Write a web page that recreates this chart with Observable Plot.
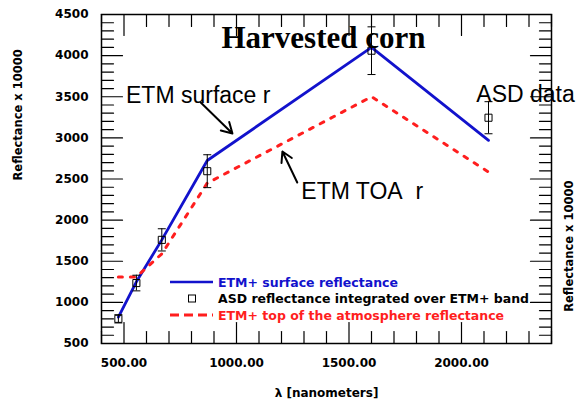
<!DOCTYPE html>
<html>
<head>
<meta charset="utf-8">
<script src="https://cdn.jsdelivr.net/npm/d3@7"></script>
<script src="https://cdn.jsdelivr.net/npm/@observablehq/plot@0.6"></script>
<style>
  body { margin: 0; background: #fff; }
</style>
</head>
<body>
<div id="chart"></div>
<script>
// ETM+ band centres (nm) and reflectances (x 10000) for harvested corn
const wavelengths = [475, 555, 668, 870, 1600, 2120];
const surfaceRefl = [820, 1250, 1760, 2725, 4100, 2970];
const toaRefl     = [1310, 1310, 1590, 2450, 3500, 2585];
const asdRefl     = [800, 1235, 1760, 2595, 4060, 3245];
const asdError    = [50, 95, 135, 200, 290, 195];

// axis ticks
const xTickLabels = [500, 1000, 1500, 2000];
const yTickLabels = [500, 1000, 1500, 2000, 2500, 3000, 3500, 4000, 4500];
const xMinorTicks = d3.range(400, 2401, 100);
const yMinorTicks = d3.range(500, 4501, 100);

// legend entries
const legendLabels = [
  "ETM+ surface reflectance",
  "ASD reflectance integrated over ETM+ band",
  "ETM+ top of the atmosphere reflectance"
];
const legendKinds = ["solid", "square", "dashed"];

const BLUE = "#1212cc";
const RED = "#ff1e1e";

const surface = wavelengths.map((w, i) => ({w, r: surfaceRefl[i]}));
const toa = wavelengths.map((w, i) => ({w, r: toaRefl[i]}));
const asd = wavelengths.map((w, i) => ({w, r: asdRefl[i], lo: asdRefl[i] - asdError[i], hi: asdRefl[i] + asdError[i]}));

// short line segment used for tick marks and error-bar caps
const tickShape = {draw(ctx, l) { ctx.moveTo(0, 0); ctx.lineTo(0, -l); }};
const capSymbol = {draw(ctx, size) { const r = Math.sqrt(size / Math.PI); ctx.moveTo(-r, 0); ctx.lineTo(r, 0); }};

const major = (list) => (d) => list.includes(d) ? 7 : 4;

function inwardTicks() {
  const common = {shape: tickShape, anchor: "start", stroke: "black", strokeWidth: 1.2};
  return [
    Plot.vector(yMinorTicks, {...common, x: 400, y: d => d, rotate: 90, length: major(yTickLabels)}),
    Plot.vector(yMinorTicks, {...common, x: 2400, y: d => d, rotate: -90, length: major(yTickLabels)}),
    Plot.vector(xMinorTicks, {...common, y: 500, x: d => d, rotate: 0, length: major(xTickLabels)}),
    Plot.vector(xMinorTicks, {...common, y: 4500, x: d => d, rotate: 180, length: major(xTickLabels)})
  ];
}

function legend(index, scales, values, dims) {
  const x0 = dims.marginLeft + 69;
  const y0 = dims.marginTop + 268;
  const g = d3.create("svg:g")
    .attr("font-family", "DejaVu Sans")
    .attr("font-weight", "bold")
    .attr("font-size", 12.5)
    .attr("text-anchor", "start");
  legendLabels.forEach((label, i) => {
    const y = y0 + i * 16.5;
    const color = legendKinds[i] === "solid" ? BLUE : legendKinds[i] === "dashed" ? RED : "black";
    if (legendKinds[i] === "square") {
      g.append("rect").attr("x", x0 + 18.5).attr("y", y - 3.5).attr("width", 7).attr("height", 7)
        .attr("fill", "none").attr("stroke", "black").attr("stroke-width", 1);
    } else {
      g.append("line").attr("x1", x0).attr("x2", x0 + 43).attr("y1", y).attr("y2", y)
        .attr("stroke", color).attr("stroke-width", legendKinds[i] === "solid" ? 2.5 : 3)
        .attr("stroke-dasharray", legendKinds[i] === "dashed" ? "9,5" : null);
    }
    g.append("text").attr("x", x0 + 48).attr("y", y).attr("dy", "0.36em")
      .attr("fill", color).text(label);
  });
  return g.node();
}

const tickFont = {fontFamily: "DejaVu Sans", fontWeight: "bold", fontSize: 12};
const noteFont = {fontFamily: "Liberation Sans", fontSize: 23, fill: "black", lineAnchor: "middle", textAnchor: "start"};

const chart = Plot.plot({
  width: 579,
  height: 400,
  marginLeft: 101,
  marginRight: 28,
  marginTop: 14,
  marginBottom: 57,
  x: {domain: [400, 2400]},
  y: {domain: [500, 4500]},
  style: {background: "white", color: "black", overflow: "visible"},
  marks: [
    Plot.axisY({ticks: yTickLabels, tickSize: 0, tickPadding: 13, label: null, tickFormat: d3.format("d"), ...tickFont}),
    Plot.axisX({ticks: xTickLabels, tickSize: 0, tickPadding: 15, label: null, tickFormat: d3.format(".2f"), ...tickFont}),
    ...inwardTicks(),
    Plot.frame({stroke: "black", strokeWidth: 1.5}),

    Plot.line(surface, {x: "w", y: "r", stroke: BLUE, strokeWidth: 2.8}),
    Plot.line(toa, {x: "w", y: "r", stroke: RED, strokeWidth: 3, strokeDasharray: "4,8", strokeLinecap: "round"}),

    Plot.ruleX(asd, {x: "w", y1: "lo", y2: "hi", stroke: "black", strokeWidth: 1}),
    Plot.dot(asd, {x: "w", y: "lo", symbol: capSymbol, r: 4, stroke: "black", strokeWidth: 1}),
    Plot.dot(asd, {x: "w", y: "hi", symbol: capSymbol, r: 4, stroke: "black", strokeWidth: 1}),
    Plot.dot(asd, {x: "w", y: "r", symbol: "square", r: 4, stroke: "black", fill: "none", strokeWidth: 1}),

    // title and annotations
    Plot.text(["Harvested corn"], {frameAnchor: "top", dx: -3, dy: 11, lineAnchor: "top",
      fontFamily: "Liberation Serif", fontWeight: "bold", fontSize: 31, fill: "black"}),
    Plot.text(["ETM surface r"], {x: 509, y: 3515, ...noteFont}),
    Plot.text(["ETM TOA\u00a0 r"], {x: 1288, y: 2348, ...noteFont}),
    Plot.text(["ASD data"], {x: 2066, y: 3527, ...noteFont}),
    Plot.arrow([0], {x1: 841, y1: 3430, x2: 982, y2: 3053, stroke: "black", strokeWidth: 2, headLength: 9}),
    Plot.arrow([0], {x1: 1270, y1: 2457, x2: 1204, y2: 2834, stroke: "black", strokeWidth: 2, headLength: 9}),

    // axis titles
    Plot.text(["\u03bb [nanometers]"], {frameAnchor: "bottom", dy: 50, lineAnchor: "middle", ...tickFont, fill: "black"}),
    Plot.text(["Reflectance x 10000"], {frameAnchor: "left", dx: -83, dy: 1.5, rotate: -90, lineAnchor: "middle", ...tickFont, fontSize: 11.5, fill: "black"}),
    Plot.text(["Reflectance x 10000"], {frameAnchor: "right", dx: 18, dy: 1.5, rotate: -90, lineAnchor: "middle", ...tickFont, fontSize: 11.5, fill: "black"}),

    legend
  ]
});

document.getElementById("chart").append(chart);
</script>
</body>
</html>
